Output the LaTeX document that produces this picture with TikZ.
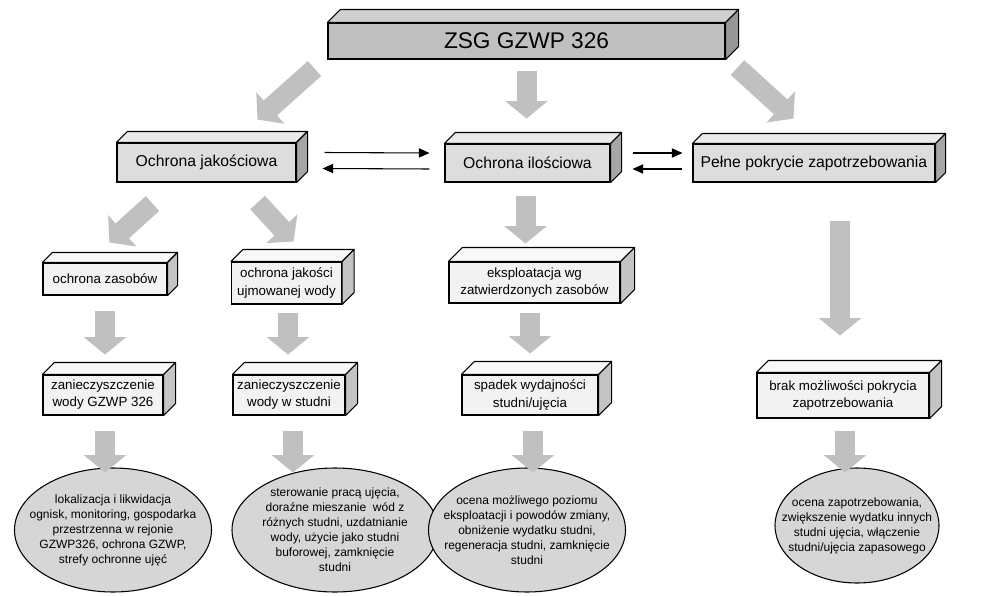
\documentclass[tikz,border=0pt]{standalone}
\usepackage{fontspec}
\setmainfont{Liberation Sans}
\usetikzlibrary{arrows.meta,calc,shapes.geometric}
\definecolor{mainfill}{HTML}{C0C0C0}
\definecolor{maintop}{HTML}{CFCFCF}
\definecolor{mainside}{HTML}{969696}
\definecolor{midfill}{HTML}{DDDDDD}
\definecolor{midtop}{HTML}{EAEAEA}
\definecolor{midside}{HTML}{A6A6A6}
\definecolor{lowfill}{HTML}{F2F2F2}
\definecolor{lowtop}{HTML}{F9F9F9}
\definecolor{lowside}{HTML}{C4C4C4}
\definecolor{ovalfill}{HTML}{D6D6D6}
\definecolor{arrowgray}{HTML}{C0C0C0}
\tikzset{
  slab/.style={rectangle, draw=black, line width=0.8pt, inner sep=0pt, align=center},
  mainbox/.style={slab, fill=mainfill, font=\fontsize{17}{20}\selectfont},
  midbox/.style={slab, fill=midfill, font=\fontsize{11.8}{14}\selectfont},
  lowbox/.style={slab, fill=lowfill, font=\fontsize{10}{12.8}\selectfont},
  oval/.style={ellipse, draw=black, line width=0.8pt, fill=ovalfill, inner sep=-40pt, align=center, font=\fontsize{9}{11.25}\selectfont},
  fat/.style={draw=arrowgray, line width=15pt, -{Triangle[length=13pt, width=31pt]}},
  link/.style={draw=black, line width=0.8pt, -{Triangle[length=8pt, width=7pt]}},
  face/.style={draw=black, line width=0.8pt, line join=round}
}
% top and side faces of a slab: node, depth, top colour, side colour
\newcommand{\slabfaces}[4]{%
  \filldraw[face, fill=#3] (#1.north west) -- ++(#2,-#2) -- ($(#1.north east)+(#2,-#2)$) -- (#1.north east) -- cycle;
  \filldraw[face, fill=#4] (#1.north east) -- ++(#2,-#2) -- ($(#1.south east)+(#2,-#2)$) -- (#1.south east) -- cycle;
}

\begin{document}
\begin{tikzpicture}[x=0.75pt, y=-0.75pt]
\useasboundingbox (0,0) rectangle (993,596);

% top
\node[mainbox, minimum width=297.75pt, minimum height=27pt] (zsg) at (526.5,41) {ZSG GZWP 326};
\slabfaces{zsg}{13}{maintop}{mainside}

% second row
\node[midbox, minimum width=134.25pt, minimum height=29.25pt] (jak) at (206.5,162.5) {Ochrona jakościowa};
\node[midbox, minimum width=123.75pt, minimum height=28.5pt] (ilosc) at (527.5,163) {Ochrona ilościowa};
\node[midbox, minimum width=181.5pt, minimum height=28.5pt] (pelne) at (814,163) {Pełne pokrycie zapotrzebowania};
\slabfaces{jak}{11}{midtop}{midside}
\slabfaces{ilosc}{11}{midtop}{midside}
\slabfaces{pelne}{10}{midtop}{midside}

% third row
\node[lowbox, minimum width=93pt, minimum height=24pt] (zasob) at (105,279) {ochrona zasobów};
\node[lowbox, minimum width=82.5pt, minimum height=31.5pt] (jakwody) at (286.5,283) {ochrona jakości\\ujmowanej wody};
\node[lowbox, minimum width=128.25pt, minimum height=30.75pt] (eksp) at (534.5,282.5) {eksploatacja wg\\zatwierdzonych zasobów};
\slabfaces{zasob}{10}{lowtop}{lowside}
\slabfaces{jakwody}{12}{lowtop}{lowside}
\slabfaces{eksp}{14}{lowtop}{lowside}

% fourth row
\node[lowbox, minimum width=90pt, minimum height=30pt] (zan1) at (103,395) {zanieczyszczenie\\wody GZWP 326};
\node[lowbox, minimum width=84pt, minimum height=30pt] (zan2) at (289,395) {zanieczyszczenie\\wody w studni};
\node[lowbox, minimum width=102pt, minimum height=30pt] (spadek) at (530,395) {spadek wydajności\\studni/ujęcia};
\node[lowbox, minimum width=129pt, minimum height=33.75pt] (brak) at (843,395.5) {brak możliwości pokrycia\\zapotrzebowania};
\slabfaces{zan1}{12}{lowtop}{lowside}
\slabfaces{zan2}{12}{lowtop}{lowside}
\slabfaces{spadek}{13}{lowtop}{lowside}
\slabfaces{brak}{12}{lowtop}{lowside}

% measures
\node[oval, minimum width=147.75pt, minimum height=93pt] (lok) at (113,530) {lokalizacja i likwidacja\\ognisk, monitoring, gospodarka\\przestrzenna w rejonie\\GZWP326, ochrona GZWP,\\strefy ochronne ujęć};
\node[oval, minimum width=154.5pt, minimum height=93pt] (ster) at (335,530) {sterowanie pracą ujęcia,\\doraźne mieszanie\ \ wód z\\różnych studni, uzdatnianie\\wody, użycie jako studni\\buforowej, zamknięcie\\studni};
\node[oval, minimum width=147.75pt, minimum height=93pt] (ocena) at (527,530) {ocena możliwego poziomu\\eksploatacji i powodów zmiany,\\obniżenie wydatku studni,\\regeneracja studni, zamknięcie\\studni};
\node[oval, minimum width=123pt, minimum height=86.25pt] (zapotrz) at (857,525.5) {ocena zapotrzebowania,\\zwiększenie wydatku innych\\studni ujęcia, włączenie\\studni/ujęcia zapasowego};

% grey arrows
\draw[fat] ($(zsg.south west)+(-13,9)$) -- ++(-57,51);
\draw[fat] ($(zsg.south)+(0,11)$) -- ++(0,48);
\draw[fat] ($(zsg.south east)+(12,8)$) -- ++(56,51);
\draw[fat] ($(jak.south west)+(36,21)$) -- ++(-43,39);
\draw[fat] ($(jak.south east)+(-39,20)$) -- ++(36,39);
\draw[fat] ($(ilosc.south)+(-2,13)$) -- ++(0,48);
\draw[fat] ($(pelne.south)+(26,38)$) -- ++(0,115);
\draw[fat] ($(zasob.south)+(0,15)$) -- ++(0,44);
\draw[fat] ($(jakwody.south)+(1.5,8)$) -- ++(0,42);
\draw[fat] ($(eksp.south)+(-4.5,9)$) -- ++(0,41);
\draw[fat] ($(zan1.south)+(2,15)$) -- ++(0,42);
\draw[fat] ($(zan2.south)+(4,15)$) -- ++(0,42);
\draw[fat] ($(spadek.south)+(3,15)$) -- ++(0,42);
\draw[fat] ($(brak.south)+(2,12)$) -- ++(0,42);

% thin arrows
\draw[link] ($(jak.east)+(28,-10)$) -- ($(ilosc.west)+(-15,-10)$);
\draw[link] ($(ilosc.west)+(-15,6)$) -- ($(jak.east)+(26,6)$);
\draw[link] ($(ilosc.east)+(22,-10)$) -- ($(pelne.west)+(-10,-10)$);
\draw[link] ($(pelne.west)+(-10,6)$) -- ($(ilosc.east)+(22,6)$);

\end{tikzpicture}
\end{document}
